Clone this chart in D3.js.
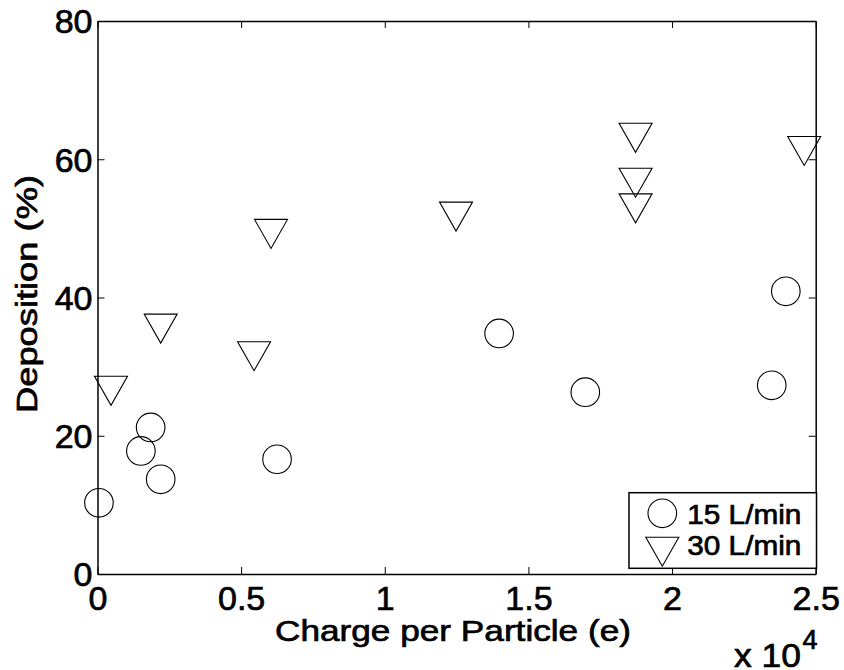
<!DOCTYPE html>
<html>
<head>
<meta charset="utf-8">
<script src="https://cdn.jsdelivr.net/npm/d3@7/dist/d3.min.js"></script>
<style>
  html, body { margin: 0; padding: 0; background: #fff; }
  svg { display: block; }
  text { font-family: "Liberation Sans", Arial, sans-serif; fill: #000; stroke: #000; stroke-width: 0.7px; }
</style>
</head>
<body>
<svg id="chart" width="844" height="670"></svg>
<script>
// ---- data (charge in elementary charges, deposition in %) ----
const charge15 = [50, 1510, 1850, 2200, 6250, 13980, 16980, 23470, 23960];
const dep15    = [10.3, 17.8, 21.2, 13.7, 16.6, 34.8, 26.3, 27.3, 40.9];
const charge30 = [470, 2200, 5450, 6040, 12480, 18730, 18730, 18730, 24600];
const dep30    = [26.5, 35.5, 31.5, 49.2, 51.7, 63.1, 56.6, 52.9, 61.2];
const xTicks = [0, 5000, 10000, 15000, 20000, 25000];
const yTicks = [0, 20, 40, 60, 80];
const seriesNames = ["15 L/min", "30 L/min"];

const svg = d3.select("#chart");
const L = 97.5, R = 815.7, T = 21, B = 574;

const x = d3.scaleLinear().domain([0, 25000]).range([L, R]);
const y = d3.scaleLinear().domain([0, 80]).range([B, T]);

function styleAxis(g) {
  g.select(".domain").attr("stroke", "#000").attr("stroke-width", 1.5);
  g.selectAll(".tick line").attr("stroke", "#000").attr("stroke-width", 1);
  g.selectAll(".tick text").attr("font-family", "Liberation Sans, Arial, sans-serif")
    .attr("font-size", 34).attr("fill", "#000");
}

// bottom axis
svg.append("g").attr("transform", `translate(0,${B})`)
  .call(d3.axisBottom(x).tickValues(xTicks).tickSizeInner(-7).tickSizeOuter(0).tickPadding(12)
    .tickFormat(d => String(d / 1e4)))
  .call(styleAxis);
// top axis
svg.append("g").attr("transform", `translate(0,${T})`)
  .call(d3.axisTop(x).tickValues(xTicks).tickSizeInner(-7).tickSizeOuter(0).tickFormat(""))
  .call(styleAxis);
// left axis
const gl = svg.append("g").attr("transform", `translate(${L},0)`)
  .call(d3.axisLeft(y).tickValues(yTicks).tickSizeInner(-7).tickSizeOuter(0).tickPadding(5))
  .call(styleAxis);
gl.selectAll(".tick text").attr("dy", "0.35em");
// right axis
svg.append("g").attr("transform", `translate(${R},0)`)
  .call(d3.axisRight(y).tickValues(yTicks).tickSizeInner(-7).tickSizeOuter(0).tickFormat(""))
  .call(styleAxis);

// markers
const circR = 14.3;
const triPath = (cx, cy) => {
  const hw = 16.5, hh = 14.5;
  return `M${cx - hw},${cy - hh}L${cx + hw},${cy - hh}L${cx},${cy + hh}Z`;
};

svg.append("g").selectAll("circle")
  .data(charge15.map((c, i) => [c, dep15[i]]))
  .join("circle")
  .attr("cx", d => x(d[0])).attr("cy", d => y(d[1])).attr("r", circR)
  .attr("fill", "none").attr("stroke", "#000").attr("stroke-width", 1.1);

svg.append("g").selectAll("path")
  .data(charge30.map((c, i) => [c, dep30[i]]))
  .join("path")
  .attr("d", d => triPath(x(d[0]), y(d[1])))
  .attr("fill", "none").attr("stroke", "#000").attr("stroke-width", 1.1);

// axis labels
svg.append("text").attr("x", 275).attr("y", 641)
  .attr("font-size", 30).attr("textLength", 356).attr("lengthAdjust", "spacingAndGlyphs")
  .text("Charge per Particle (e)");

svg.append("text").attr("transform", "translate(36.5,413) rotate(-90)")
  .attr("font-size", 30).attr("textLength", 238).attr("lengthAdjust", "spacingAndGlyphs")
  .text("Deposition (%)");

// exponent label
svg.append("text").attr("x", 734).attr("y", 667).attr("font-size", 33)
  .attr("textLength", 67).attr("lengthAdjust", "spacingAndGlyphs").text("x 10");
svg.append("text").attr("x", 802.5).attr("y", 649).attr("font-size", 27).text("4");

// legend
const lg = svg.append("g");
lg.append("rect").attr("x", 629).attr("y", 492.7).attr("width", 187.5).attr("height", 75.6)
  .attr("fill", "#fff").attr("stroke", "#000").attr("stroke-width", 1.5);
lg.append("circle").attr("cx", 662.3).attr("cy", 513.3).attr("r", circR)
  .attr("fill", "none").attr("stroke", "#000").attr("stroke-width", 1.1);
lg.append("path").attr("d", triPath(662.3, 551.7))
  .attr("fill", "none").attr("stroke", "#000").attr("stroke-width", 1.1);
lg.append("text").attr("x", 687.3).attr("y", 524).attr("font-size", 27)
  .attr("textLength", 114).attr("lengthAdjust", "spacingAndGlyphs").text(seriesNames[0]);
lg.append("text").attr("x", 687.3).attr("y", 554.5).attr("font-size", 27)
  .attr("textLength", 114).attr("lengthAdjust", "spacingAndGlyphs").text(seriesNames[1]);
</script>
</body>
</html>
